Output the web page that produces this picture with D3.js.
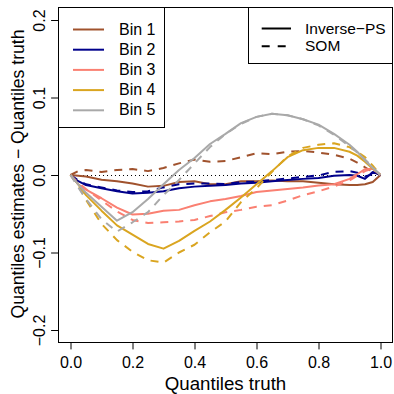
<!DOCTYPE html>
<html>
<head>
<meta charset="utf-8">
<script src="https://cdn.jsdelivr.net/npm/d3@7"></script>
<style>
  body { margin: 0; background: #fff; }
  svg text { font-family: "Liberation Sans", Arial, Helvetica, sans-serif; fill: #000; }
</style>
</head>
<body>
<div id="graph"></div>
<script>
// quantile grid (x values) shared by all series
var quantiles = [0, 0.025, 0.05, 0.1, 0.15, 0.2, 0.25, 0.3, 0.35, 0.4, 0.45, 0.5, 0.55, 0.6, 0.65, 0.7, 0.75, 0.8, 0.85, 0.9, 0.925, 0.95, 0.975, 1];

var binNames = ["Bin 1", "Bin 2", "Bin 3", "Bin 4", "Bin 5"];
var methodNames = ["Inverse\u2212PS", "SOM"];

// Inverse-PS (solid)
var bin1Inv = [0, -0.001, -0.002, -0.006, -0.008, -0.011, -0.015, -0.014, -0.009, -0.008, -0.012, -0.012, -0.008, -0.008, -0.007, -0.008, -0.008, -0.010, -0.012, -0.013, -0.013, -0.012, -0.009, 0];
var bin2Inv = [0, -0.008, -0.013, -0.017, -0.021, -0.024, -0.023, -0.021, -0.017, -0.015, -0.014, -0.013, -0.011, -0.010, -0.008, -0.0065, -0.005, -0.004, -0.001, 0, -0.001, -0.005, 0.004, 0];
var bin3Inv = [0, -0.012, -0.019, -0.030, -0.042, -0.051, -0.050, -0.046, -0.045, -0.039, -0.034, -0.031, -0.027, -0.022, -0.020, -0.018, -0.016, -0.0135, -0.012, -0.005, 0.001, 0.0075, 0.008, 0];
var bin4Inv = [0, -0.012, -0.026, -0.046, -0.065, -0.077, -0.089, -0.095, -0.085, -0.072, -0.060, -0.045, -0.029, -0.012, 0.005, 0.023, 0.032, 0.035, 0.035, 0.030, 0.025, 0.017, 0.008, 0];
var bin5Inv = [0, -0.012, -0.023, -0.041, -0.059, -0.048, -0.031, -0.012, 0.0065, 0.022, 0.040, 0.053, 0.067, 0.075, 0.079, 0.077, 0.072, 0.065, 0.053, 0.039, 0.030, 0.019, 0.009, 0];

// SOM (dashed)
var bin1Som = [0, 0.005, 0.0065, 0.004, 0.0065, 0.0077, 0.005, 0.009, 0.015, 0.020, 0.017, 0.018, 0.023, 0.028, 0.027, 0.030, 0.031, 0.029, 0.026, 0.021, 0.016, 0.010, 0.004, 0];
var bin2Som = [0, -0.007, -0.012, -0.016, -0.020, -0.022, -0.021, -0.016, -0.012, -0.011, -0.011, -0.0115, -0.009, -0.0085, -0.0065, -0.0045, -0.0025, -0.0005, 0.004, 0.005, 0.003, -0.002, 0.001, 0];
var bin3Som = [0, -0.010, -0.018, -0.033, -0.047, -0.058, -0.062, -0.061, -0.060, -0.058, -0.053, -0.048, -0.045, -0.041, -0.039, -0.033, -0.026, -0.021, -0.015, -0.007, -0.001, 0.005, 0.008, 0];
var bin4Som = [0, -0.014, -0.032, -0.063, -0.084, -0.099, -0.110, -0.113, -0.100, -0.090, -0.074, -0.060, -0.035, -0.017, 0.004, 0.024, 0.035, 0.039, 0.041, 0.036, 0.030, 0.023, 0.012, 0];
var bin5Som = [0, -0.016, -0.031, -0.057, -0.073, -0.061, -0.048, -0.026, -0.0065, 0.015, 0.036, 0.053, 0.066, 0.075, 0.079, 0.077, 0.072, 0.064, 0.052, 0.037, 0.029, 0.020, 0.010, 0];

var xTicks = [0, 0.2, 0.4, 0.6, 0.8, 1.0];
var yTicks = [-0.2, -0.1, 0, 0.1, 0.2];

var colors = ["#A0522D", "#00008B", "#FA8072", "#DAA520", "#A9A9A9"];
var invSeries = [bin1Inv, bin2Inv, bin3Inv, bin4Inv, bin5Inv];
var somSeries = [bin1Som, bin2Som, bin3Som, bin4Som, bin5Som];

var width = 394, height = 394;
var dash = "8,7";

var x = d3.scaleLinear().domain([-0.04, 1.04]).range([58.1, 392.9]);
var y = d3.scaleLinear().domain([-0.216, 0.216]).range([342.4, 7.6]);

var svg = d3.select("#graph").append("svg")
    .attr("width", width)
    .attr("height", height);

// zero reference line
svg.append("line")
    .attr("x1", x(0)).attr("x2", x(1))
    .attr("y1", y(0)).attr("y2", y(0))
    .attr("stroke", "#000")
    .attr("stroke-width", 1)
    .attr("shape-rendering", "crispEdges")
    .attr("stroke-dasharray", "1,3");

var line = d3.line()
    .x(function(d, i) { return x(quantiles[i]); })
    .y(function(d) { return y(d); });

var plot = svg.append("g").attr("fill", "none").attr("stroke-width", 2)
    .attr("stroke-linejoin", "round");

invSeries.forEach(function(s, k) {
  plot.append("path").attr("d", line(s)).attr("stroke", colors[k]);
  plot.append("path").attr("d", line(somSeries[k])).attr("stroke", colors[k])
      .attr("stroke-dasharray", dash);
});

// axes, R style
var xAxis = svg.append("g")
    .attr("transform", "translate(0," + y.range()[0] + ")")
    .call(d3.axisBottom(x).tickValues(xTicks).tickSize(7).tickFormat(d3.format(".1f")));
xAxis.select(".domain").remove();
xAxis.selectAll("text").attr("y", 26).attr("dy", 0).style("font-size", "16px");
xAxis.selectAll("line").attr("stroke", "#000");

var yAxis = svg.append("g")
    .attr("transform", "translate(" + x.range()[0] + ",0)")
    .call(d3.axisLeft(y).tickValues(yTicks).tickSize(7).tickFormat(d3.format(".1f")));
yAxis.select(".domain").remove();
yAxis.selectAll("text")
    .attr("x", 0).attr("y", -13).attr("dy", 0)
    .attr("transform", "rotate(-90)")
    .attr("text-anchor", "middle")
    .style("font-size", "16px");
yAxis.selectAll("line").attr("stroke", "#000");

// plot box
svg.append("rect")
    .attr("x", 58.5).attr("y", 7.5)
    .attr("width", 334).attr("height", 335)
    .attr("fill", "none").attr("stroke", "#000").attr("stroke-width", 1);

// axis titles
svg.append("text")
    .attr("x", (x.range()[0] + x.range()[1]) / 2).attr("y", 390)
    .attr("text-anchor", "middle")
    .style("font-size", "18.7px")
    .text("Quantiles truth");

svg.append("text")
    .attr("transform", "translate(24,174) rotate(-90)")
    .attr("text-anchor", "middle")
    .style("font-size", "17.6px")
    .text("Quantiles estimates \u2212 Quantiles truth");

// legend: bins
var leg1 = svg.append("g");
leg1.append("rect")
    .attr("x", 58.5).attr("y", 7.5).attr("width", 106).attr("height", 120)
    .attr("fill", "#fff").attr("stroke", "#000");
binNames.forEach(function(name, i) {
  var by = 34.5 + i * 20.2;
  leg1.append("line")
      .attr("x1", 73).attr("x2", 104).attr("y1", by - 5).attr("y2", by - 5)
      .attr("stroke", colors[i]).attr("stroke-width", 2);
  leg1.append("text").attr("x", 119).attr("y", by)
      .style("font-size", "16px").text(name);
});

// legend: methods
var leg2 = svg.append("g");
leg2.append("rect")
    .attr("x", 248.5).attr("y", 7.5).attr("width", 144).attr("height", 56)
    .attr("fill", "#fff").attr("stroke", "#000");
methodNames.forEach(function(name, i) {
  var by = 33.5 + i * 17.7;
  leg2.append("line")
      .attr("x1", 261.7).attr("x2", 291).attr("y1", by - 5).attr("y2", by - 5)
      .attr("stroke", "#000").attr("stroke-width", 2)
      .attr("stroke-dasharray", i == 0 ? null : "8,8");
  leg2.append("text").attr("x", 305).attr("y", by)
      .style("font-size", "15.5px").text(name);
});
</script>
</body>
</html>
